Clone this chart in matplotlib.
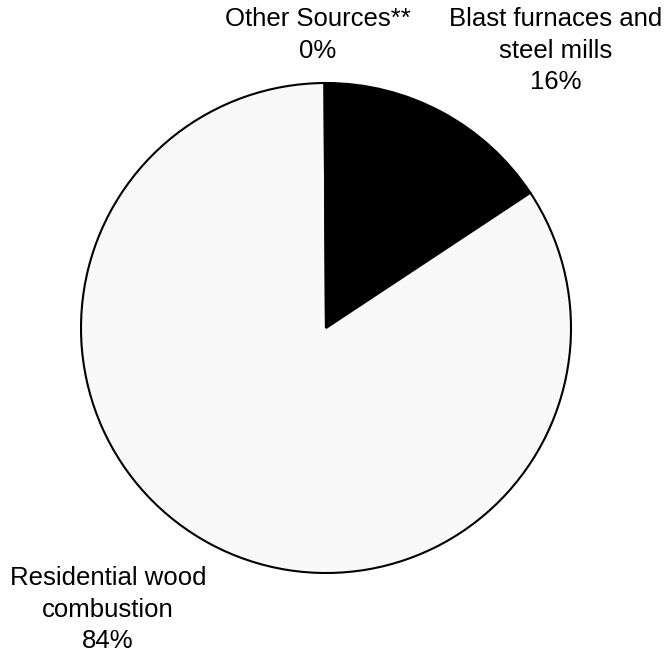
import matplotlib.pyplot as plt

# Shares of emissions by source (percent)
labels = ["Blast furnaces and\nsteel mills", "Residential wood\ncombustion", "Other Sources**"]
shares = [15.7, 84.2, 0.1]
pct_text = ["16%", "84%", "0%"]
colors = ["#000000", "#f9f9f9", "#000000"]

plt.rcParams["font.family"] = ["Liberation Sans", "DejaVu Sans"]

W, H = 665, 653
fig = plt.figure(figsize=(W / 100, H / 100), dpi=100, facecolor="white")
ax = fig.add_axes([0, 0, 1, 1])

ax.pie(shares, colors=colors, startangle=90, counterclock=False,
       center=(326, H - 328), radius=245,
       wedgeprops=dict(edgecolor="black", linewidth=1.5))

# pie() resets the limits, so set the pixel-like frame afterwards
ax.set_xlim(0, W)
ax.set_ylim(0, H)
ax.set_aspect("equal")
ax.axis("off")

# label anchors: centre x, top of text block (pixels from top-left)
label_pos = [(556, 7), (108, 566), (318, 7)]
for lab, pct, (x, y) in zip(labels, pct_text, label_pos):
    ax.text(x, H - y, lab + "\n" + pct, ha="center", va="top",
            fontsize=18.5, linespacing=1.40, color="black")

fig.savefig("out.png", dpi=100, facecolor="white")
